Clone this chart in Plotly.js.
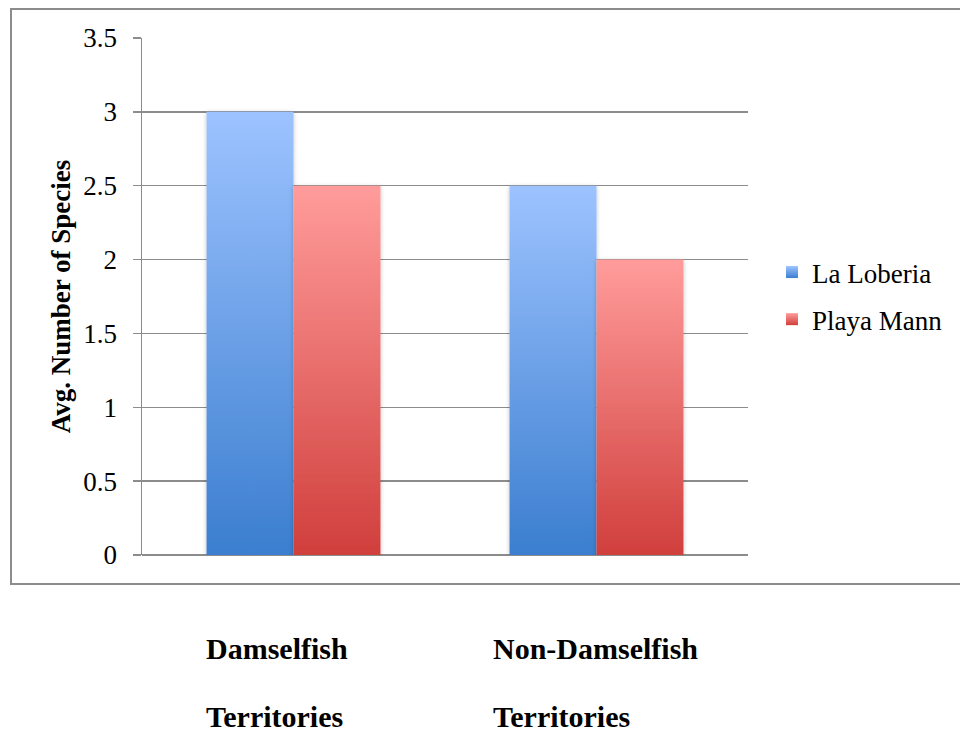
<!DOCTYPE html>
<html>
<head>
<meta charset="utf-8">
<script src="https://cdn.plot.ly/plotly-3.0.1.min.js"></script>
<style>html,body{margin:0;padding:0;background:#fff;}#chart{width:960px;height:733px;}</style>
</head>
<body>
<div id="chart"></div>
<script>
const categories = ["Damselfish Territories", "Non-Damselfish Territories"];
const seriesNames = ["La Loberia", "Playa Mann"];
const laLoberia = [3, 2.5];
const playaMann = [2.5, 2];
const yTicks = [0, 0.5, 1, 1.5, 2, 2.5, 3, 3.5];
const yTickText = ["0", "0.5", "1", "1.5", "2", "2.5", "3", "3.5"];
const catLine1 = ["Damselfish", "Non-Damselfish"];
const catLine2 = ["Territories", "Territories"];
const yTitle = "Avg. Number of Species";

const serif = "Liberation Serif, Times New Roman, serif";
const traces = [
  {type: "bar", name: seriesNames[0], legendgroup: "a", x: categories, y: laLoberia, marker: {color: "#6A9EE4", line: {width: 0}}},
  {type: "bar", name: seriesNames[1], legendgroup: "b", x: categories, y: playaMann, marker: {color: "#E46A68", line: {width: 0}}}
];

const annX = [(204 - 142) / 606, (491 - 142) / 606];
const annotations = [];
for (let i = 0; i < categories.length; i++) {
  annotations.push({xref: "paper", yref: "paper", x: annX[i], y: (555 - 648) / 517, xanchor: "left", yanchor: "middle",
    text: "<b>" + catLine1[i] + "</b>", showarrow: false, font: {family: serif, size: 30, color: "#000"}});
  annotations.push({xref: "paper", yref: "paper", x: annX[i], y: (555 - 716) / 517, xanchor: "left", yanchor: "middle",
    text: "<b>" + catLine2[i] + "</b>", showarrow: false, font: {family: serif, size: 30, color: "#000"}});
}

const layout = {
  width: 960, height: 733,
  margin: {l: 142, r: 212, t: 38, b: 178},
  paper_bgcolor: "#fff", plot_bgcolor: "#fff",
  barmode: "group", bargap: 0.426, bargroupgap: 0,
  showlegend: true,
  legend: {x: (772 - 142) / 606, y: (555 - 296) / 517, xanchor: "left", yanchor: "middle", font: {family: serif, size: 27, color: "#000"},
    tracegroupgap: 9, itemwidth: 30, bgcolor: "rgba(0,0,0,0)"},
  xaxis: {showticklabels: false, showgrid: false, zeroline: false, showline: false, ticks: "", fixedrange: true},
  yaxis: {range: [0, 3.5], tickvals: yTicks, ticktext: yTickText, showgrid: true, gridcolor: "#8c8c8c", gridwidth: 1.5,
    zeroline: true, zerolinecolor: "#8c8c8c", zerolinewidth: 1.5,
    showline: true, linecolor: "#8c8c8c", linewidth: 1.5, ticks: "outside", ticklen: 8, tickcolor: "#8c8c8c", tickwidth: 1.5,
    ticklabelstandoff: 10,
    tickfont: {family: serif, size: 27, color: "#000"},
    title: {text: "<b>" + yTitle + "</b>", font: {family: serif, size: 27, color: "#000"}, standoff: 5},
    automargin: false},
  shapes: [{type: "rect", xref: "paper", yref: "paper", x0: (11 - 142) / 606, x1: (964 - 142) / 606, y0: -29 / 517, y1: 546 / 517,
    line: {color: "#8c8c8c", width: 2}, fillcolor: "rgba(0,0,0,0)", layer: "below"}],
  annotations: annotations
};

Plotly.newPlot("chart", traces, layout, {displayModeBar: false, staticPlot: true}).then(function (gd) {
  const svg = gd.querySelector("svg.main-svg");
  const ns = "http://www.w3.org/2000/svg";
  let defs = svg.querySelector("defs");
  if (!defs) { defs = document.createElementNS(ns, "defs"); svg.insertBefore(defs, svg.firstChild); }
  const grads = [["gradBlue", "#9DC3FF", "#3B7ECF"], ["gradRed", "#FF9C9B", "#D03F3C"]];
  grads.forEach(function (g) {
    const lg = document.createElementNS(ns, "linearGradient");
    lg.setAttribute("id", g[0]); lg.setAttribute("x1", "0"); lg.setAttribute("y1", "0"); lg.setAttribute("x2", "0"); lg.setAttribute("y2", "1");
    const s1 = document.createElementNS(ns, "stop"); s1.setAttribute("offset", "0"); s1.setAttribute("stop-color", g[1]);
    const s2 = document.createElementNS(ns, "stop"); s2.setAttribute("offset", "1"); s2.setAttribute("stop-color", g[2]);
    lg.appendChild(s1); lg.appendChild(s2); defs.appendChild(lg);
  });
  const f = document.createElementNS(ns, "filter");
  f.setAttribute("id", "barShadow"); f.setAttribute("x", "-10%"); f.setAttribute("y", "-5%"); f.setAttribute("width", "120%"); f.setAttribute("height", "110%");
  const ds = document.createElementNS(ns, "feDropShadow");
  ds.setAttribute("dx", "0"); ds.setAttribute("dy", "1"); ds.setAttribute("stdDeviation", "2"); ds.setAttribute("flood-color", "#000"); ds.setAttribute("flood-opacity", "0.25");
  f.appendChild(ds); defs.appendChild(f);
  const traceGroups = gd.querySelectorAll(".barlayer .trace");
  traceGroups.forEach(function (tg, i) {
    tg.style.filter = "url(#barShadow)";
    tg.querySelectorAll("path").forEach(function (p) { p.style.fill = "url(#" + grads[i][0] + ")"; });
  });
  gd.querySelectorAll(".legend .traces").forEach(function (t, i) {
    t.querySelectorAll("path").forEach(function (p) { p.style.fill = "url(#" + grads[i][0] + ")"; });
  });
});
</script>
</body>
</html>
